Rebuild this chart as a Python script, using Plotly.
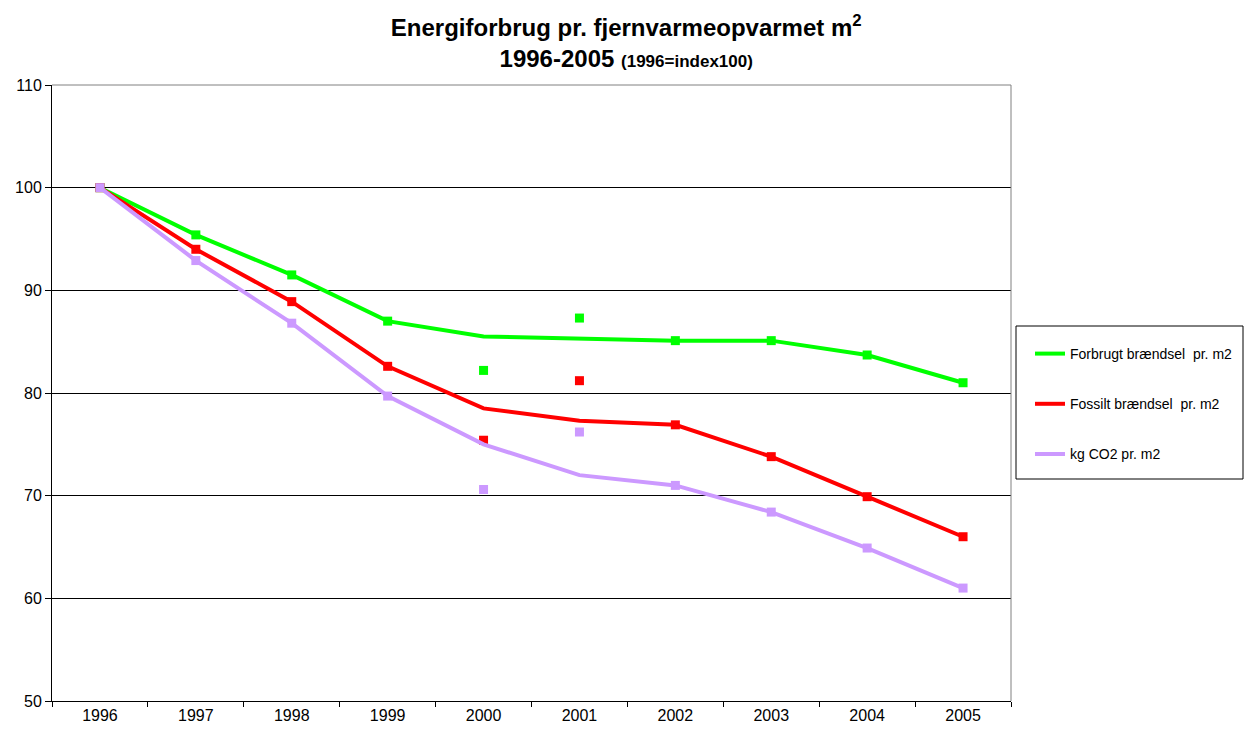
import plotly.graph_objects as go

years = ["1996", "1997", "1998", "1999", "2000", "2001", "2002", "2003", "2004", "2005"]

# Trend line values
forbrugt_line = [100, 95.4, 91.5, 87.0, 85.5, 85.3, 85.1, 85.1, 83.7, 81.0]
fossilt_line = [100, 94.0, 88.9, 82.6, 78.5, 77.3, 76.9, 73.8, 69.9, 66.0]
co2_line = [100, 92.9, 86.8, 79.7, 75.0, 72.0, 71.0, 68.4, 64.9, 61.0]

# Data point markers
forbrugt_pts = [100, 95.4, 91.5, 87.0, 82.2, 87.3, 85.1, 85.1, 83.7, 81.0]
fossilt_pts = [100, 94.0, 88.9, 82.6, 75.4, 81.2, 76.9, 73.8, 69.9, 66.0]
co2_pts = [100, 92.9, 86.8, 79.7, 70.6, 76.2, 71.0, 68.4, 64.9, 61.0]

names = ["Forbrugt brændsel  pr. m2", "Fossilt brændsel  pr. m2", "kg CO2 pr. m2"]
colors = ["#00FF00", "#FF0000", "#CC99FF"]

FONT = "Liberation Sans, Arial, sans-serif"

fig = go.Figure()
for i, (ln, pts) in enumerate([(forbrugt_line, forbrugt_pts), (fossilt_line, fossilt_pts), (co2_line, co2_pts)]):
    fig.add_trace(go.Scatter(x=years, y=ln, mode="lines", name=names[i],
                             line=dict(color=colors[i], width=4), legendgroup=f"g{i}"))
    fig.add_trace(go.Scatter(x=years, y=pts, mode="markers", showlegend=False,
                             marker=dict(color=colors[i], symbol="square", size=9),
                             legendgroup=f"g{i}"))

fig.update_layout(
    width=1245, height=733,
    margin=dict(l=52, r=234, t=85, b=32, autoexpand=False),
    paper_bgcolor="white", plot_bgcolor="white",
    font=dict(family=FONT, size=16, color="black"),
    title=dict(
        text="<b>Energiforbrug pr. fjernvarmeopvarmet m<sup>2</sup></b><br><b>1996-2005 <span style='font-size:17px'>(1996=index100)</span></b>",
        x=0.503, xanchor="center", y=1 - 36 / 733, yanchor="top",
        font=dict(size=24, family=FONT),
    ),
    xaxis=dict(type="category", range=[-0.5, len(years) - 0.5], showgrid=False,
               showline=True, linecolor="black", linewidth=1,
               ticks="outside", tickson="boundaries", ticklen=5, tickcolor="black",
               tickfont=dict(size=16), mirror=False, automargin=False),
    yaxis=dict(range=[50, 110], dtick=10, showgrid=True, gridcolor="black", gridwidth=1,
               showline=True, linecolor="black", linewidth=1, ticks="outside", ticklen=6,
               tickcolor="black", tickfont=dict(size=16), zeroline=False, automargin=False),
    legend=dict(xref="container", yref="container", x=1030 / 1245, xanchor="left",
                y=1 - 338 / 733, yanchor="top", bgcolor="rgba(0,0,0,0)",
                borderwidth=0, font=dict(size=14), traceorder="grouped", tracegroupgap=29,
                itemwidth=30),
    showlegend=True,
)

# Plot area border (top and right gray)
fig.add_shape(type="line", xref="paper", yref="paper", x0=0, x1=1, y0=1, y1=1,
              line=dict(color="#808080", width=1))
fig.add_shape(type="line", xref="paper", yref="paper", x0=1, x1=1, y0=0, y1=1,
              line=dict(color="#808080", width=1))
# Legend box
fig.add_shape(type="rect", xref="paper", yref="paper",
              x0=(1016 - 52) / 959, x1=(1243 - 52) / 959,
              y0=(701 - 479) / 616, y1=(701 - 326) / 616,
              line=dict(color="black", width=1), fillcolor="rgba(0,0,0,0)")

fig.write_html("out.html", config={"displayModeBar": False})

# remove default body margin so the figure sits at the page origin
with open("out.html", "r", encoding="utf-8") as f:
    html = f.read()
html = html.replace(
    "<head>",
    "<head><style>html,body{margin:0;padding:0;overflow:hidden;width:1245px;height:733px;}</style>",
    1,
)
with open("out.html", "w", encoding="utf-8") as f:
    f.write(html)
